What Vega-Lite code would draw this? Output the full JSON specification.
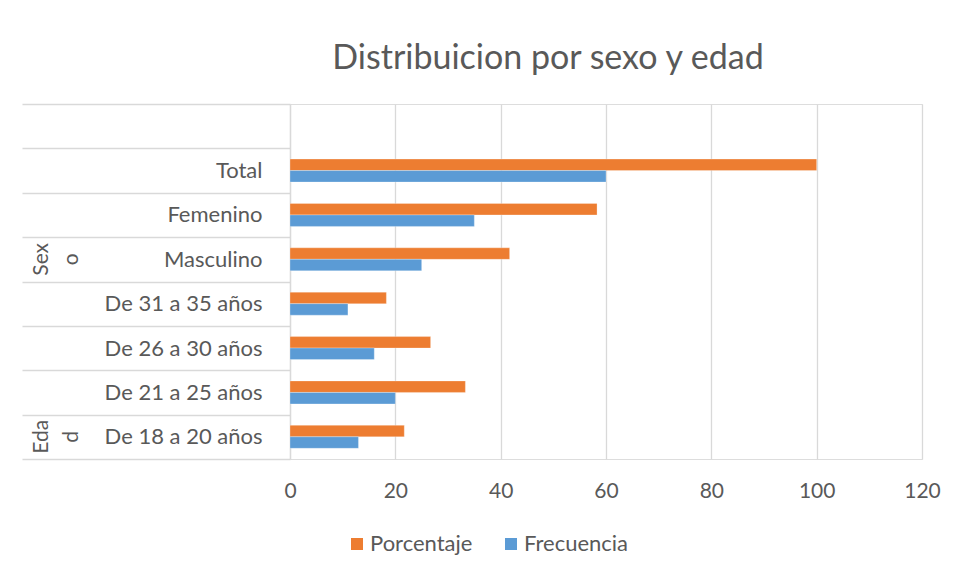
{
  "$schema": "https://vega.github.io/schema/vega-lite/v6.json",
  "autosize": {"type": "none"},
  "padding": {"left": 290, "top": 104, "right": 35, "bottom": 119},
  "width": 632,
  "height": 355,
  "background": "white",
  "title": {
    "text": "Distribuicion por sexo y edad",
    "font": "Lato",
    "fontSize": 34,
    "fontWeight": "normal",
    "color": "#595959",
    "anchor": "middle",
    "frame": "group",
    "dx": -58,
    "offset": 17
  },
  "data": {
    "values": [
      {"cat": "Total", "serie": "Porcentaje", "valor": 100},
      {"cat": "Total", "serie": "Frecuencia", "valor": 60},
      {"cat": "Femenino", "serie": "Porcentaje", "valor": 58.3},
      {"cat": "Femenino", "serie": "Frecuencia", "valor": 35},
      {"cat": "Masculino", "serie": "Porcentaje", "valor": 41.7},
      {"cat": "Masculino", "serie": "Frecuencia", "valor": 25},
      {"cat": "De 31 a 35 años", "serie": "Porcentaje", "valor": 18.3},
      {"cat": "De 31 a 35 años", "serie": "Frecuencia", "valor": 11},
      {"cat": "De 26 a 30 años", "serie": "Porcentaje", "valor": 26.7},
      {"cat": "De 26 a 30 años", "serie": "Frecuencia", "valor": 16},
      {"cat": "De 21 a 25 años", "serie": "Porcentaje", "valor": 33.3},
      {"cat": "De 21 a 25 años", "serie": "Frecuencia", "valor": 20},
      {"cat": "De 18 a 20 años", "serie": "Porcentaje", "valor": 21.7},
      {"cat": "De 18 a 20 años", "serie": "Frecuencia", "valor": 13}
    ]
  },
  "resolve": {"axis": {"y": "independent"}},
  "layer": [
    {
      "mark": {"type": "bar", "stroke": "white", "strokeOpacity": 0.35, "strokeWidth": 0.8},
      "encoding": {
        "y": {
          "field": "cat",
          "type": "nominal",
          "scale": {
            "domain": [" ", "Total", "Femenino", "Masculino", "De 31 a 35 años", "De 26 a 30 años", "De 21 a 25 años", "De 18 a 20 años"],
            "paddingInner": 0,
            "paddingOuter": 0
          },
          "axis": {
            "orient": "left",
            "title": null,
            "tickBand": "extent",
            "tickSize": 268,
            "tickColor": "#d9d9d9",
            "tickWidth": 1.3,
            "domainColor": "#d9d9d9",
            "domainWidth": 1.3,
            "labelPadding": -240,
            "labelFont": "Lato",
            "labelFontSize": 22,
            "labelColor": "#595959",
            "labelAlign": "right",
            "labelBaseline": "middle",
            "labelOverlap": false,
            "labelLimit": 400,
            "grid": false
          }
        },
        "yOffset": {
          "field": "serie",
          "type": "nominal",
          "scale": {"domain": ["Porcentaje", "Frecuencia"], "paddingInner": 0, "paddingOuter": 0.93}
        },
        "x": {
          "field": "valor",
          "type": "quantitative",
          "scale": {"domain": [0, 120], "nice": false},
          "axis": {
            "title": null,
            "values": [0, 20, 40, 60, 80, 100, 120],
            "domain": false,
            "ticks": false,
            "grid": true,
            "gridColor": "#d9d9d9",
            "gridWidth": 1.3,
            "labelFont": "Lato",
            "labelFontSize": 21,
            "labelColor": "#595959",
            "labelPadding": 21,
            "labelFlush": false
          }
        },
        "color": {
          "field": "serie",
          "type": "nominal",
          "scale": {"domain": ["Porcentaje", "Frecuencia"], "range": ["#ED7D31", "#5B9BD5"]},
          "legend": {
            "title": null,
            "orient": "none",
            "direction": "horizontal",
            "legendX": 56,
            "legendY": 429,
            "padding": 0,
            "symbolType": "square",
            "symbolSize": 144,
            "symbolStrokeWidth": 0,
            "labelFont": "Lato",
            "labelFontSize": 22,
            "labelColor": "#595959",
            "labelOffset": 2,
            "columnPadding": 27,
            "labelLimit": 300
          }
        }
      }
    },
    {
      "mark": {"type": "text", "text": ""},
      "encoding": {
        "y": {
          "field": "cat",
          "type": "nominal",
          "axis": {
            "orient": "left",
            "title": null,
            "domain": false,
            "ticks": false,
            "grid": false,
            "labelExpr": "datum.value == 'Masculino' ? ['Sex', 'o'] : (datum.value == 'De 18 a 20 años' ? ['Eda', 'd'] : '')",
            "labelAngle": -90,
            "labelAlign": "center",
            "labelBaseline": "alphabetic",
            "labelLineHeight": 30,
            "labelPadding": 243,
            "labelFont": "Lato",
            "labelFontSize": 21,
            "labelColor": "#595959",
            "labelOverlap": false,
            "labelBound": false,
            "labelFlush": false
          }
        }
      }
    }
  ]
}
